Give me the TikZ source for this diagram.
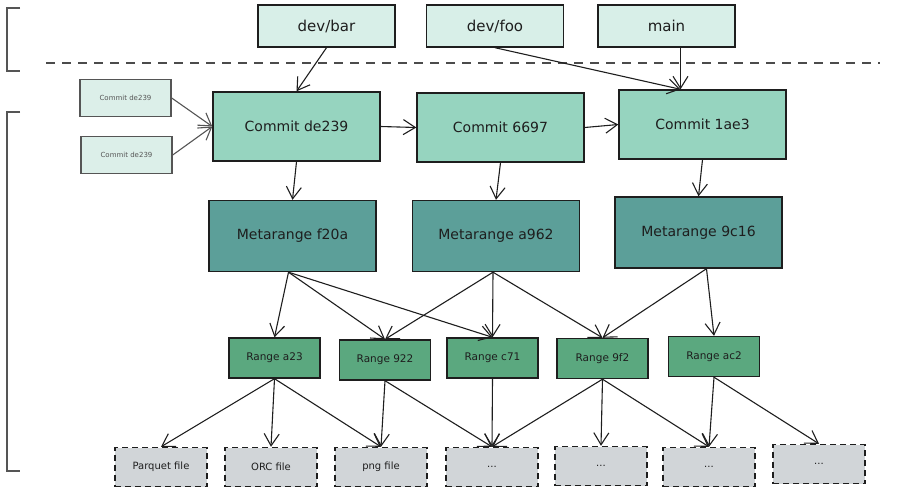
\documentclass[tikz,border=0pt]{standalone}
\usepackage{fontspec}
\setmainfont{DejaVu Sans}
\usetikzlibrary{arrows.meta}

\definecolor{ink}{HTML}{1E1E1E}
\definecolor{branchfill}{HTML}{D8EFE8}
\definecolor{oldfill}{HTML}{DCEFE9}
\definecolor{commitfill}{HTML}{96D4BF}
\definecolor{metafill}{HTML}{5C9F99}
\definecolor{rangefill}{HTML}{5BA87F}
\definecolor{filefill}{HTML}{D1D5D8}
\definecolor{guide}{HTML}{555555}

\begin{document}
\begin{tikzpicture}[x=1pt,y=-1pt, line width=1.1pt,
  box/.style={draw=ink, line width=1.4pt, inner sep=0pt, text=ink},
  branchbox/.style={box, fill=branchfill, minimum width=137pt, minimum height=42pt,
    font=\fontsize{15}{17}\selectfont},
  oldbox/.style={box, draw=guide, fill=oldfill, minimum width=91pt, minimum height=37pt,
    text=guide, font=\fontsize{7}{8}\selectfont},
  commitbox/.style={box, fill=commitfill, minimum width=167pt, minimum height=69pt,
    font=\fontsize{14}{16}\selectfont},
  metabox/.style={box, fill=metafill, minimum width=167pt, minimum height=71pt,
    font=\fontsize{14}{16}\selectfont},
  rangebox/.style={box, fill=rangefill, minimum width=91pt, minimum height=40pt,
    font=\fontsize{10.5}{12}\selectfont},
  filebox/.style={box, dashed, dash pattern=on 6pt off 4pt, fill=filefill,
    minimum width=92pt, minimum height=39pt, font=\fontsize{10}{12}\selectfont},
  link/.style={draw=ink, line width=1.1pt, -{Straight Barb[length=12pt,width=15pt]}},
  oldlink/.style={link, draw=guide},
  bracket/.style={draw=guide, line width=1.1pt}]

\useasboundingbox (0,0) rectangle (910,498);

% =========================
% refs
% =========================
\node[branchbox] (bar)  at (326.5,26) {dev/bar};
\node[branchbox] (foo)  at (495,26)   {dev/foo};
\node[branchbox] (main) at (666.5,26) {main};

% separator and brackets
\draw[bracket] (20,8) -- (7,8) -- (7,71) -- (20,71);
\draw[bracket] (20,112) -- (7,112) -- (7,471) -- (20,471);
\draw[draw=ink!80, line width=1.6pt, dash pattern=on 9pt off 7pt] (46,63) -- (880,63);

% =========================
% commits
% =========================
\node[oldbox] (old1) at (125.5,98)  {Commit de239};
\node[oldbox] (old2) at (126.5,155) {Commit de239};

\node[commitbox] (c1) at (296.5,126.5) {Commit de239};
\node[commitbox] (c2) at (500.5,127.5) {Commit 6697};
\node[commitbox] (c3) at (702.5,124.5) {Commit 1ae3};

\draw[link] (bar.south) -- (c1.north);
\draw[link] (foo.south) -- ([xshift=-22pt]c3.north);
\draw[link] ([xshift=14pt]main.south) -- ([xshift=-22pt]c3.north);

\draw[oldlink] (old1.east) -- (c1.west);
\draw[oldlink] (old2.east) -- (c1.west);

\draw[link] (c1.east) -- (c2.west);
\draw[link] (c2.east) -- (c3.west);

% =========================
% metaranges
% =========================
\node[metabox] (m1) at (292.5,236)   {Metarange f20a};
\node[metabox] (m2) at (496,236)     {Metarange a962};
\node[metabox] (m3) at (698.5,232.5) {Metarange 9c16};

\draw[link] (c1.south) -- (m1.north);
\draw[link] (c2.south) -- (m2.north);
\draw[link] (c3.south) -- (m3.north);

% =========================
% ranges
% =========================
\node[rangebox] (r1) at (274.5,358) {Range a23};
\node[rangebox] (r2) at (385,360)   {Range 922};
\node[rangebox] (r3) at (492.5,358) {Range c71};
\node[rangebox] (r4) at (602.5,358.5) {Range 9f2};
\node[rangebox] (r5) at (714,356.5) {Range ac2};

\foreach \r in {r1,r2,r3} \draw[link] ([xshift=-4pt]m1.south) -- (\r.north);
\foreach \r in {r2,r3,r4} \draw[link] ([xshift=-3pt]m2.south) -- (\r.north);
\foreach \r in {r4,r5} \draw[link] ([xshift=8pt]m3.south) -- (\r.north);

% =========================
% files
% =========================
\node[filebox] (f1) at (161,467)   {Parquet file};
\node[filebox] (f2) at (271,467)   {ORC file};
\node[filebox] (f3) at (381,467)   {png file};
\node[filebox] (f4) at (492,467)   {...};
\node[filebox] (f5) at (601,466)   {...};
\node[filebox] (f6) at (709,467)   {...};
\node[filebox] (f7) at (819,464)   {...};

\foreach \f in {f1,f2,f3} \draw[link] (r1.south) -- (\f.north);
\foreach \f in {f3,f4} \draw[link] (r2.south) -- (\f.north);
\draw[link] (r3.south) -- (f4.north);
\foreach \f in {f4,f5,f6} \draw[link] (r4.south) -- (\f.north);
\foreach \f in {f6,f7} \draw[link] (r5.south) -- (\f.north);

\end{tikzpicture}
\end{document}
